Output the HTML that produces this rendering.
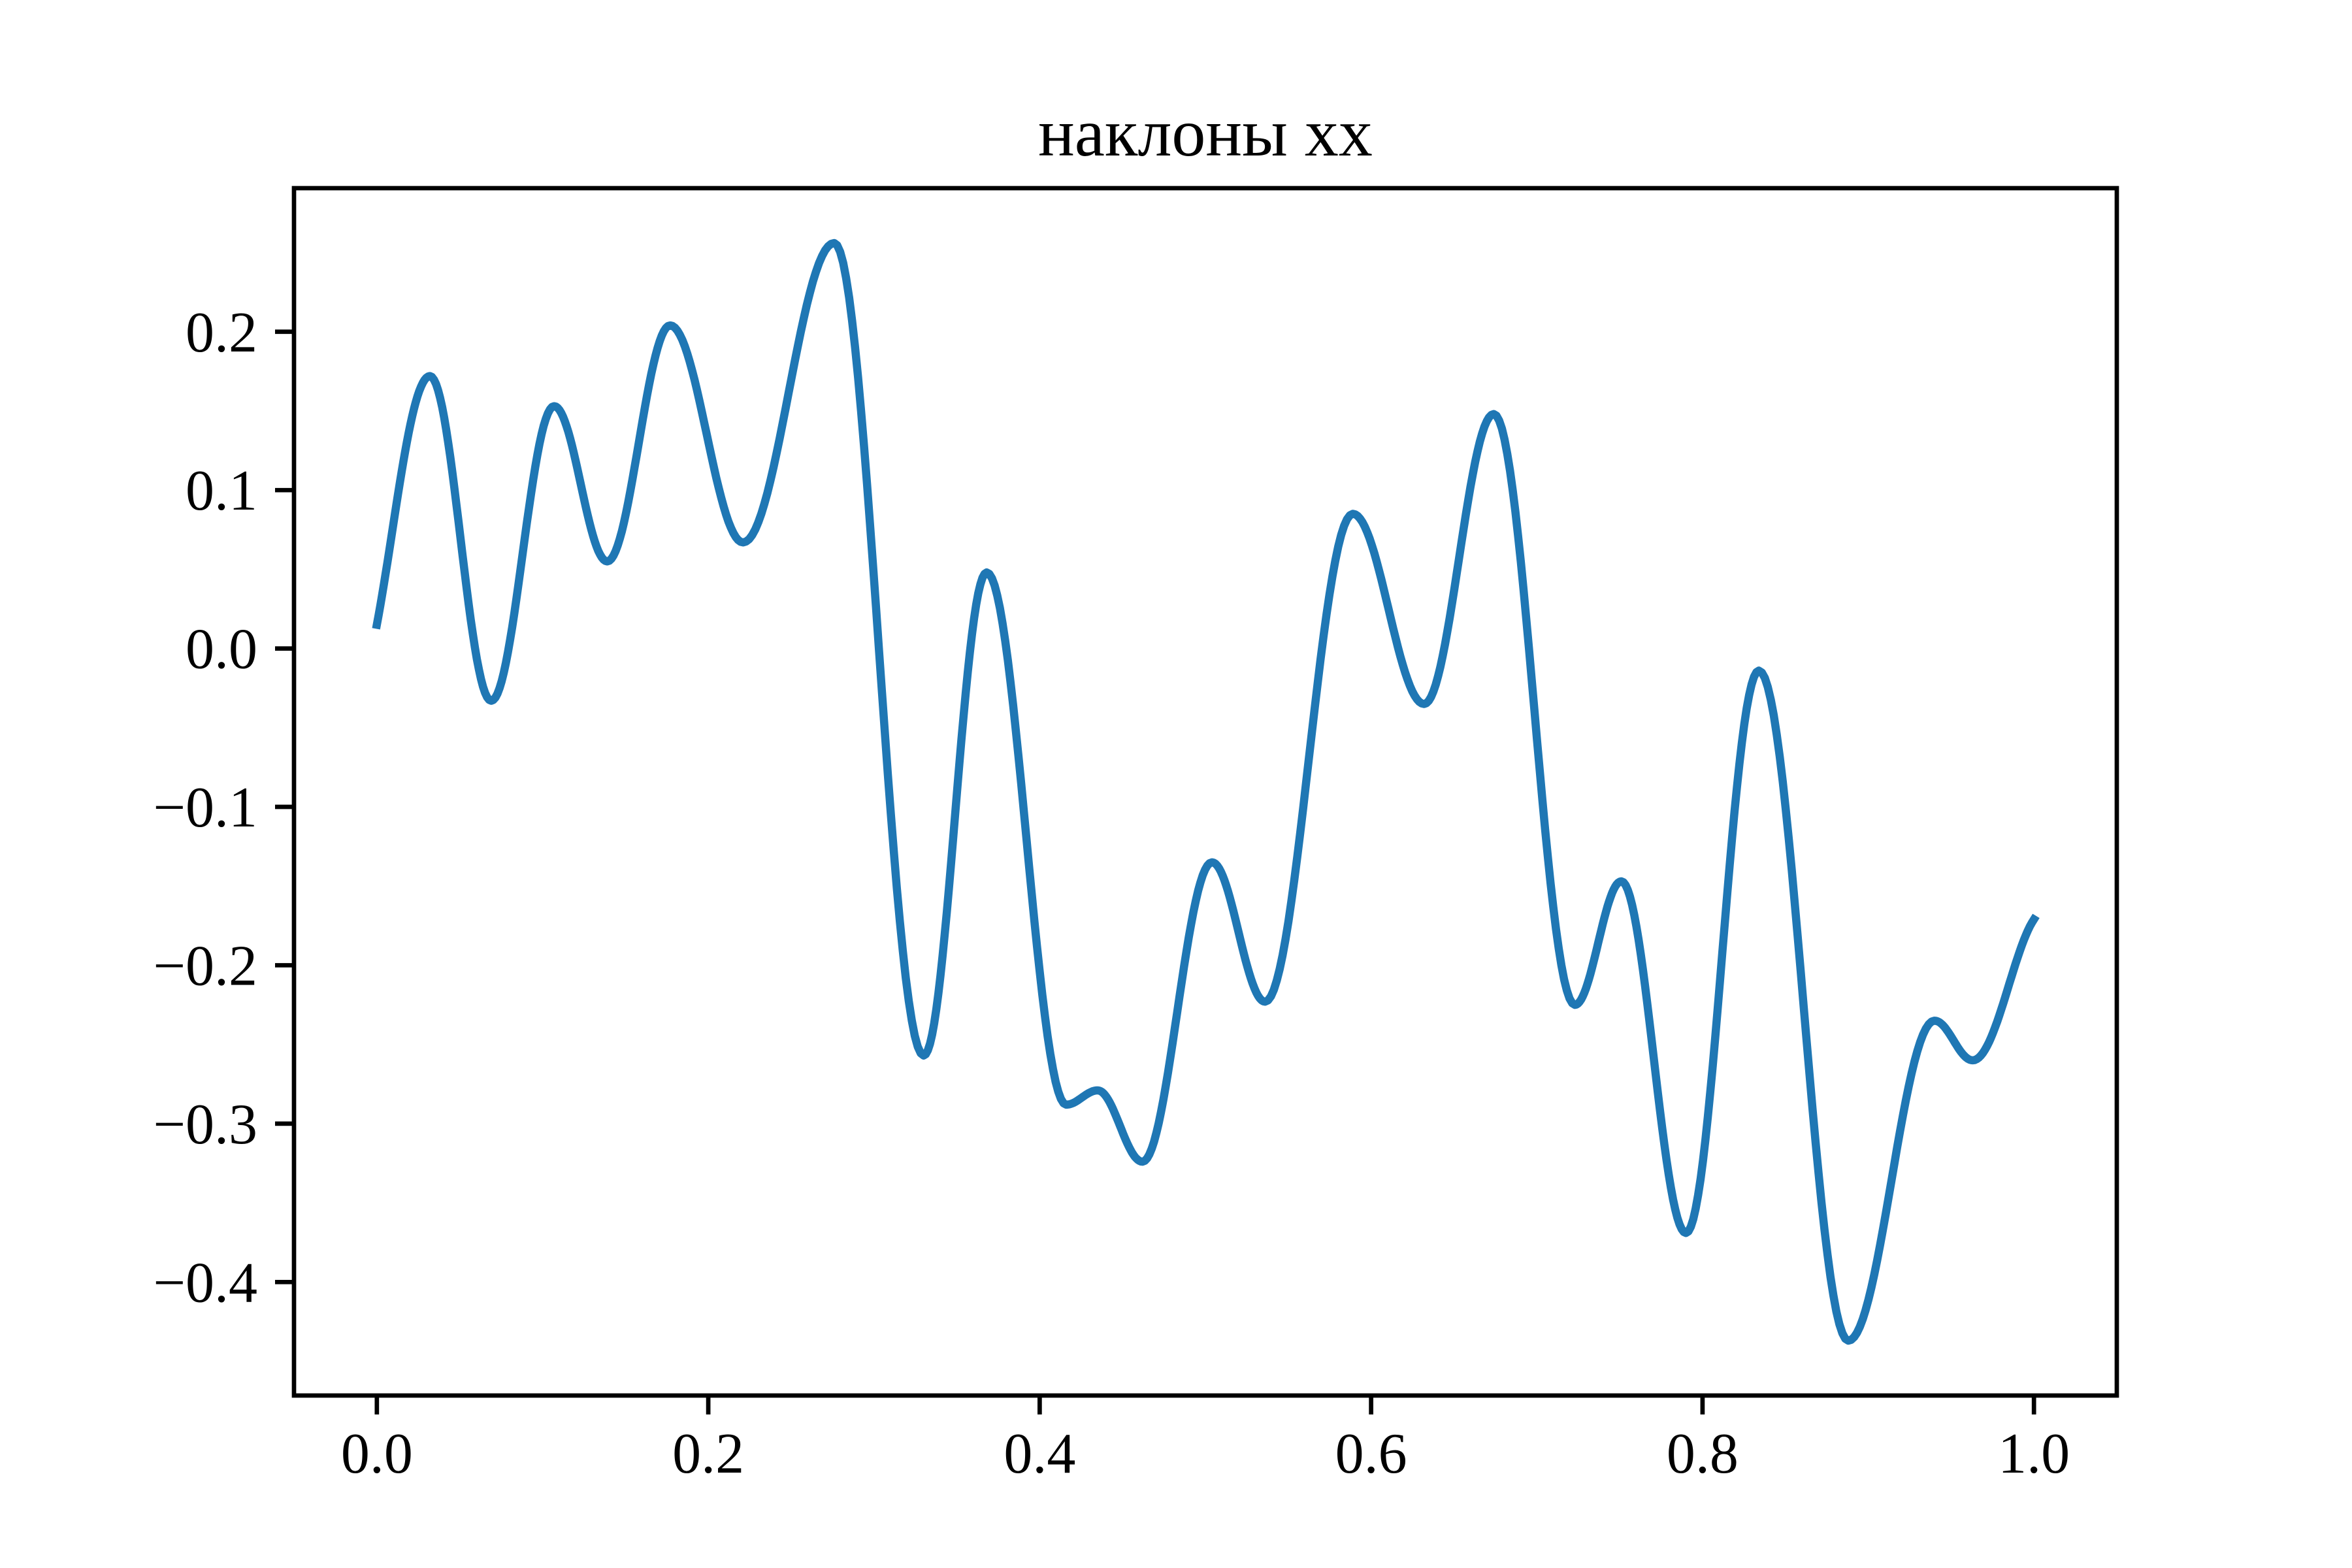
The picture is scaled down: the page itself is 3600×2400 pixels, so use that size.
<!DOCTYPE html>
<html><head><meta charset="utf-8"><style>
html,body{margin:0;padding:0;background:#fff}
svg{display:block}
text{font-family:"Liberation Serif","DejaVu Serif",serif;fill:#000}
</style></head><body>
<svg id="chart" width="3600" height="2400" viewBox="0 0 3600 2400" xmlns="http://www.w3.org/2000/svg">
<rect width="3600" height="2400" fill="#fff"/>
<text x="1845" y="238" font-size="104" text-anchor="middle">наклоны xx</text>
<g id="ticks"></g>
<path id="series" fill="none" stroke="#1f77b4" stroke-width="12.5" stroke-linejoin="round" stroke-linecap="square"/>
<rect x="450" y="288" width="2790" height="1848" fill="none" stroke="#000" stroke-width="6.7"/>
</svg>
<script>
const xs = [0,0.032,0.069,0.107,0.139,0.177,0.221,0.276,0.330,0.368,0.416,0.435,0.462,0.504,0.536,0.589,0.632,0.674,0.723,0.751,0.790,0.834,0.888,0.940,0.963,1.0];
const ys = [0.015,0.172,-0.033,0.153,0.055,0.204,0.067,0.256,-0.257,0.048,-0.288,-0.279,-0.324,-0.135,-0.223,0.085,-0.035,0.148,-0.225,-0.147,-0.369,-0.014,-0.437,-0.235,-0.260,-0.171];
const xTicks = [0,0.2,0.4,0.6,0.8,1.0];
const xTickLabels = ["0.0","0.2","0.4","0.6","0.8","1.0"];
const yTicks = [-0.4,-0.3,-0.2,-0.1,0,0.1,0.2];
const yTickLabels = ["\u22120.4","\u22120.3","\u22120.2","\u22120.1","0.0","0.1","0.2"];

const L=450,R=3240,T=288,B=2136;
const ymin=Math.min(...ys), ymax=Math.max(...ys), pad=(ymax-ymin)*0.05;
const y0=ymin-pad, y1=ymax+pad;
const sx=v=>L+(v+0.05)/1.1*(R-L);
const sy=v=>B-(v-y0)/(y1-y0)*(B-T);
const NS="http://www.w3.org/2000/svg";
const g=document.getElementById('ticks');
xTicks.forEach((v,i)=>{
  const l=document.createElementNS(NS,'line');
  l.setAttribute('x1',sx(v));l.setAttribute('x2',sx(v));l.setAttribute('y1',B);l.setAttribute('y2',B+29);
  l.setAttribute('stroke','#000');l.setAttribute('stroke-width','6.7');
  
  
  g.appendChild(l);
  const t=document.createElementNS(NS,'text');
  t.setAttribute('x',sx(v));t.setAttribute('y',B+118);t.setAttribute('font-size','88');t.setAttribute('text-anchor','middle');
  t.textContent=xTickLabels[i];
  
  
  g.appendChild(t);
});
yTicks.forEach((v,i)=>{
  const l=document.createElementNS(NS,'line');
  l.setAttribute('x1',L-29);l.setAttribute('x2',L);l.setAttribute('y1',sy(v));l.setAttribute('y2',sy(v));
  l.setAttribute('stroke','#000');l.setAttribute('stroke-width','6.7');
  
  
  g.appendChild(l);
  const t=document.createElementNS(NS,'text');
  t.setAttribute('x',L-56);t.setAttribute('y',sy(v)+30);t.setAttribute('font-size','88');t.setAttribute('text-anchor','end');
  t.textContent=yTickLabels[i];
  
  
  g.appendChild(t);
});
let d='M'+sx(xs[0]).toFixed(1)+','+sy(ys[0]).toFixed(1);
for(let i=0;i<xs.length-1;i++){
  const n=30;
  for(let k=1;k<=n;k++){
    const t=k/n;
    let f;
    if(i===0){const a=0.3; f=((1-Math.cos(Math.PI*(a+(1-a)*t)))/2-(1-Math.cos(Math.PI*a))/2)/(1-(1-Math.cos(Math.PI*a))/2);}
    else if(i===xs.length-2){const b=0.85; f=((1-Math.cos(Math.PI*b*t))/2)/((1-Math.cos(Math.PI*b))/2);}
    else f=(1-Math.cos(Math.PI*t))/2;
    const x=xs[i]+(xs[i+1]-xs[i])*t, y=ys[i]+(ys[i+1]-ys[i])*f;
    d+=' L'+sx(x).toFixed(1)+','+sy(y).toFixed(1);
  }
}
document.getElementById('series').setAttribute('d',d);
</script>
</body></html>
